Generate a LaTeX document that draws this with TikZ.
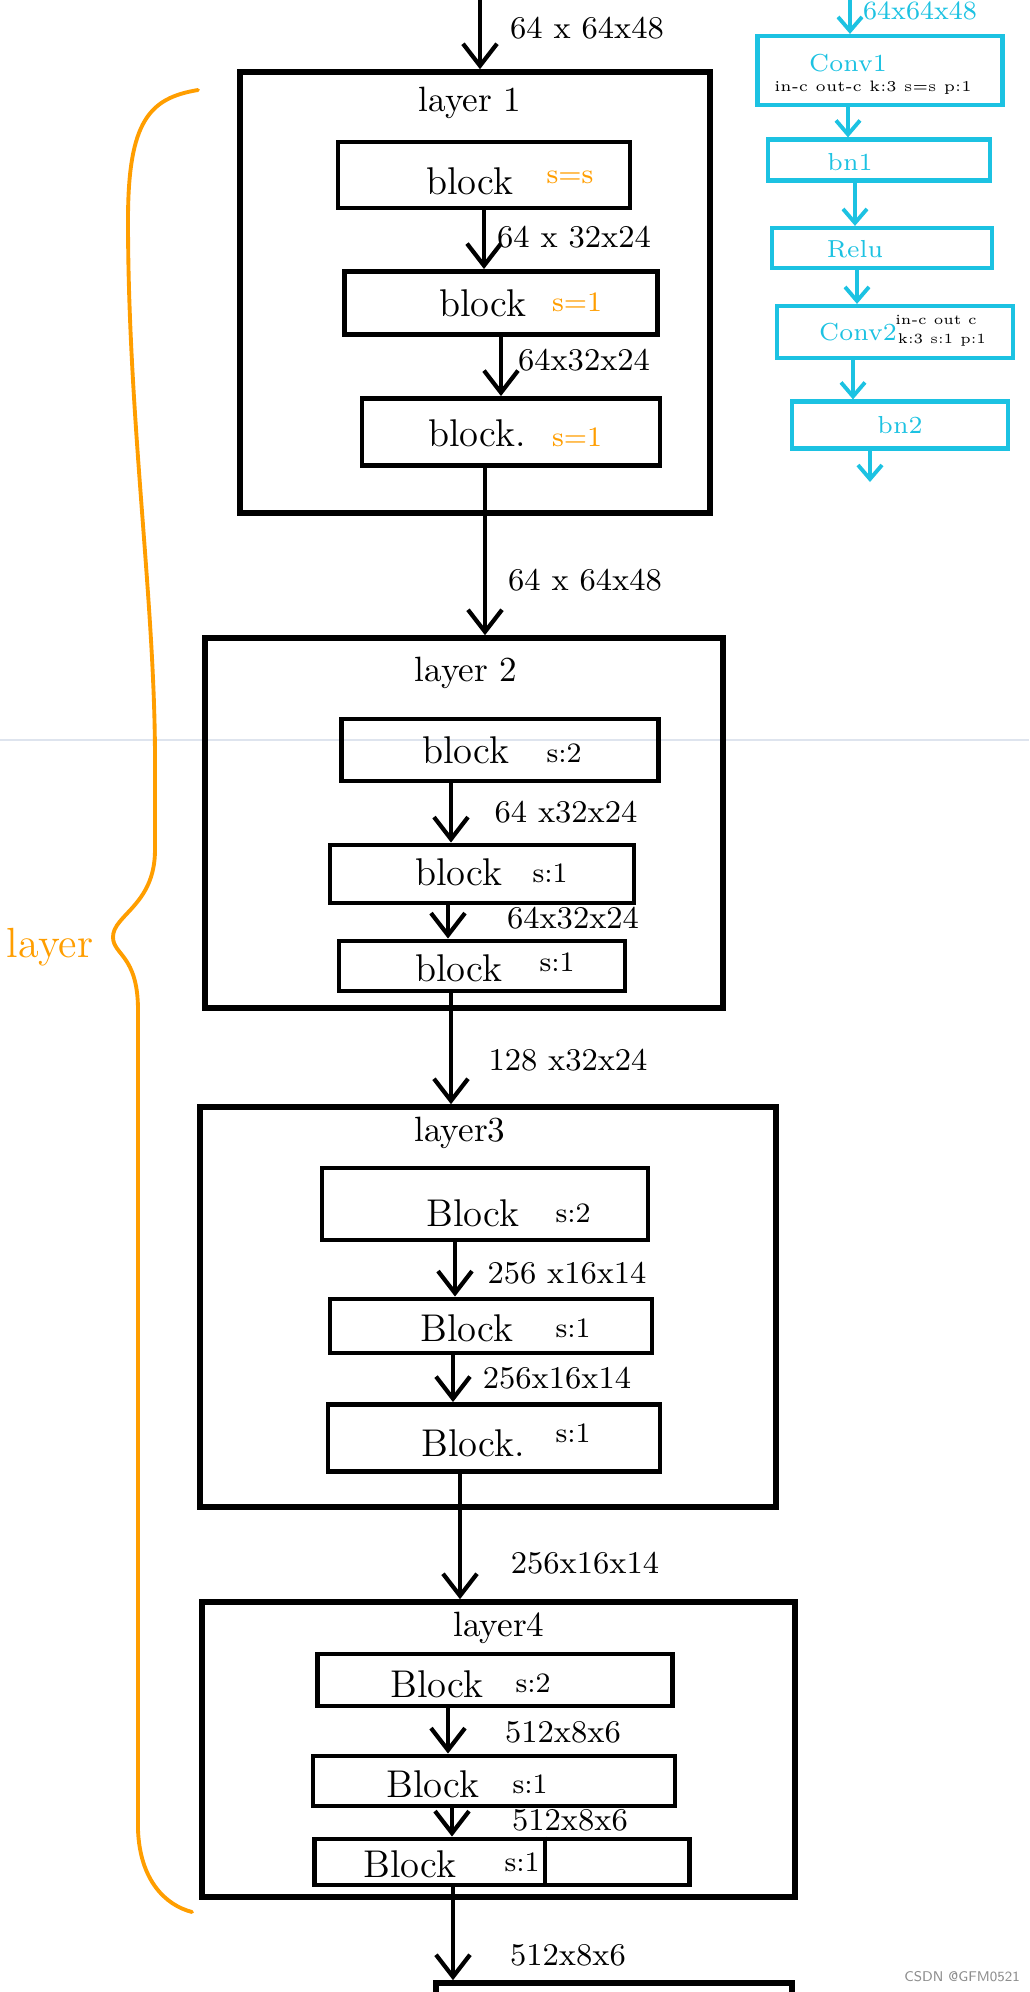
\documentclass[tikz,border=0pt]{standalone}
\usepackage{tikz}
\usetikzlibrary{arrows.meta}
\definecolor{penorange}{RGB}{255,158,0}
\definecolor{pencyan}{RGB}{28,194,226}
\definecolor{rulegray}{RGB}{222,228,238}
\tikzstyle{lnode} = [rectangle, draw, line width=1.6pt, inner sep=0pt]
\tikzstyle{bnode} = [rectangle, draw, line width=1.4pt, inner sep=0pt]
\tikzstyle{cnode} = [rectangle, draw=pencyan, line width=1.2pt, inner sep=0pt]
\tikzstyle{line} = [draw, line width=1.2pt, -{Straight Barb[length=2.2mm,width=3.4mm]}]
\tikzstyle{cline} = [draw=pencyan, line width=1.1pt, -{Straight Barb[length=1.4mm,width=2.4mm]}]
\tikzstyle{ltext} = [font=\fontsize{10}{12}\selectfont, inner sep=0pt]
\tikzstyle{btext} = [font=\fontsize{11}{12}\selectfont, inner sep=0pt]
\tikzstyle{stext} = [font=\fontsize{8}{9}\selectfont, inner sep=0pt]
\tikzstyle{dtext} = [font=\fontsize{9}{10}\selectfont, inner sep=0pt]
\tikzstyle{ctext} = [text=pencyan, font=\fontsize{7}{8}\selectfont, inner sep=0pt]
\tikzstyle{ptext} = [font=\fontsize{4.3}{5}\selectfont, inner sep=0pt]

\begin{document}
\begin{tikzpicture}[x=0.1mm, y=-0.1mm]
	\fill [white] (0,0) rectangle (1029,1992);
	\useasboundingbox (0,0) rectangle (1029,1992);
	\clip (0,0) rectangle (1029,1992);
	\draw [rulegray, line width=0.12mm] (0,740) -- (1029,740);

	% input
	\coordinate (in0) at (480,0);
	\node [dtext] (d0) at (587,28) {64 x 64x48};

	% layer 1
	\node [lnode, minimum width=47mm, minimum height=44.1mm] (L1) at (475,292.5) {};
	\node [ltext] (L1t) at (470,103) {layer 1};
	\node [bnode, minimum width=29.2mm, minimum height=6.6mm] (b11) at (484,175) {};
	\node [btext] (b11t) at (470,181) {block};
	\node [stext, text=penorange] (b11s) at (570,177) {s=s};
	\node [bnode, minimum width=31.3mm, minimum height=6.3mm] (b12) at (501,303) {};
	\node [btext] (b12t) at (483,303) {block};
	\node [stext, text=penorange] (b12s) at (577,302) {s=1};
	\node [bnode, minimum width=29.8mm, minimum height=6.7mm] (b13) at (511,432) {};
	\node [btext] (b13t) at (477,433) {block.};
	\node [stext, text=penorange] (b13s) at (577,437) {s=1};
	\node [dtext] (d11) at (574,237) {64 x 32x24};
	\node [dtext] (d12) at (584,360) {64x32x24};

	% layer 2
	\node [dtext] (d1) at (585,580) {64 x 64x48};
	\node [lnode, minimum width=51.8mm, minimum height=37mm] (L2) at (464,823) {};
	\node [ltext] (L2t) at (466,673) {layer 2};
	\node [bnode, minimum width=31.7mm, minimum height=6.2mm] (b21) at (500,750) {};
	\node [btext] (b21t) at (466,750) {block};
	\node [stext] (b21s) at (564,753) {s:2};
	\node [bnode, minimum width=30.4mm, minimum height=5.8mm] (b22) at (482,874) {};
	\node [btext] (b22t) at (459,872) {block};
	\node [stext] (b22s) at (550,873) {s:1};
	\node [bnode, minimum width=28.6mm, minimum height=5mm] (b23) at (482,966) {};
	\node [btext] (b23t) at (459,968) {block};
	\node [stext] (b23s) at (557,962) {s:1};
	\node [dtext] (d21) at (566,812) {64 x32x24};
	\node [dtext] (d22) at (573,918) {64x32x24};

	% layer 3
	\node [dtext] (d2) at (568,1060) {128 x32x24};
	\node [lnode, minimum width=57.6mm, minimum height=40mm] (L3) at (488,1307) {};
	\node [ltext] (L3t) at (460,1133) {layer3};
	\node [bnode, minimum width=32.6mm, minimum height=7.2mm] (b31) at (485,1204) {};
	\node [btext] (b31t) at (473,1213) {Block};
	\node [stext] (b31s) at (573,1213) {s:2};
	\node [bnode, minimum width=32.2mm, minimum height=5.4mm] (b32) at (491,1326) {};
	\node [btext] (b32t) at (467,1328) {Block};
	\node [stext] (b32s) at (573,1328) {s:1};
	\node [bnode, minimum width=33.2mm, minimum height=6.7mm] (b33) at (494,1438) {};
	\node [btext] (b33t) at (473,1443) {Block.};
	\node [stext] (b33s) at (573,1433) {s:1};
	\node [dtext] (d31) at (567,1273) {256 x16x14};
	\node [dtext] (d32) at (557,1378) {256x16x14};

	% layer 4
	\node [dtext] (d3) at (585,1563) {256x16x14};
	\node [lnode, minimum width=59.3mm, minimum height=29.5mm] (L4) at (498.5,1749.5) {};
	\node [ltext] (L4t) at (499,1628) {layer4};
	\node [bnode, minimum width=35.5mm, minimum height=5.2mm] (b41) at (495,1680) {};
	\node [btext] (b41t) at (437,1684) {Block};
	\node [stext] (b41s) at (533,1683) {s:2};
	\node [bnode, minimum width=36.2mm, minimum height=5mm] (b42) at (494,1781) {};
	\node [btext] (b42t) at (433,1784) {Block};
	\node [stext] (b42s) at (530,1784) {s:1};
	\node [bnode, minimum width=37.5mm, minimum height=4.6mm] (b43) at (502,1862) {};
	\node [btext] (b43t) at (410,1864) {Block};
	\node [stext] (b43s) at (522,1862) {s:1};
	\draw [line width=1.2pt] ([xshift=4.3mm]b43.north) -- ([xshift=4.3mm]b43.south);
	\node [dtext] (d41) at (563,1732) {512x8x6};
	\node [dtext] (d42) at (570,1820) {512x8x6};
	\node [dtext] (d4) at (568,1955) {512x8x6};
	\node [lnode, minimum width=35.6mm, minimum height=10mm] (L5) at (614,2033) {};

	% arrows
	\path [line] (in0) -- (in0 |- L1.north);
	\path [line] (b11.south) -- (b11.south |- b12.north);
	\path [line] (b12.south) -- (b12.south |- b13.north);
	\path [line] ([xshift=-2.6mm]b13.south) -- ([xshift=-2.6mm]b13.south |- L2.north);
	\path [line] ([xshift=-4.9mm]b21.south) -- ([xshift=-4.9mm]b21.south |- b22.north);
	\path [line] ([xshift=-3.4mm]b22.south) -- ([xshift=-3.4mm]b22.south |- b23.north);
	\path [line] ([xshift=-3.1mm]b23.south) -- ([xshift=-3.1mm]b23.south |- L3.north);
	\path [line] ([xshift=-3mm]b31.south) -- ([xshift=-3mm]b31.south |- b32.north);
	\path [line] ([xshift=-3.8mm]b32.south) -- ([xshift=-3.8mm]b32.south |- b33.north);
	\path [line] ([xshift=-3.4mm]b33.south) -- ([xshift=-3.4mm]b33.south |- L4.north);
	\path [line] ([xshift=-4.7mm]b41.south) -- ([xshift=-4.7mm]b41.south |- b42.north);
	\path [line] ([xshift=-4.2mm]b42.south) -- ([xshift=-4.2mm]b42.south |- b43.north);
	\path [line] ([xshift=-4.9mm]b43.south) -- ([xshift=-4.9mm]b43.south |- L5.north);

	% brace
	\draw [penorange, line width=1.1pt, line cap=round]
		(198,90) .. controls (150,98) and (128,120) .. (128,220)
		.. controls (128,420) and (155,600) .. (155,760) -- (155,850)
		.. controls (155,905) and (113,915) .. (113,937)
		.. controls (113,955) and (138,955) .. (138,1010) -- (138,1830)
		.. controls (140,1880) and (165,1905) .. (192,1912);
	\node [text=penorange, font=\fontsize{12}{14}\selectfont, anchor=base, inner sep=0pt] (brl) at (50,957) {layer};

	% block detail
	\coordinate (cin) at (850,0);
	\node [ctext, font=\fontsize{7.5}{8}\selectfont] (cd0) at (920,11) {64x64x48};
	\node [cnode, minimum width=24.5mm, minimum height=6.9mm] (cb1) at (880,70.5) {};
	\node [ctext] (cb1t) at (848,63) {Conv1};
	\node [ptext] (cb1p) at (873,88) {in-c\enspace out-c\enspace k:3\enspace s=s\enspace p:1};
	\node [cnode, minimum width=22.2mm, minimum height=4.1mm] (cb2) at (879,160) {};
	\node [ctext] (cb2t) at (850,162) {bn1};
	\node [cnode, minimum width=22mm, minimum height=4mm] (cb3) at (882,248) {};
	\node [ctext] (cb3t) at (855,249) {Relu};
	\node [cnode, minimum width=23.6mm, minimum height=5.2mm] (cb4) at (895,332) {};
	\node [ctext] (cb4t) at (858,332) {Conv2};
	\node [ptext, font=\fontsize{4}{5}\selectfont] (cb4p) at (936,320) {in-c\enspace out c};
	\node [ptext, font=\fontsize{4}{5}\selectfont] (cb4q) at (942,340) {k:3\enspace s:1\enspace p:1};
	\node [cnode, minimum width=21.6mm, minimum height=4.7mm] (cb5) at (900,425) {};
	\node [ctext] (cb5t) at (900,425) {bn2};
	\coordinate (cout) at (870,482);

	\path [cline] (cin) -- (cin |- cb1.north);
	\path [cline] ([xshift=-3.2mm]cb1.south) -- ([xshift=-3.2mm]cb1.south |- cb2.north);
	\path [cline] ([xshift=-2.4mm]cb2.south) -- ([xshift=-2.4mm]cb2.south |- cb3.north);
	\path [cline] ([xshift=-2.5mm]cb3.south) -- ([xshift=-2.5mm]cb3.south |- cb4.north);
	\path [cline] ([xshift=-4.2mm]cb4.south) -- ([xshift=-4.2mm]cb4.south |- cb5.north);
	\path [cline] ([xshift=-3mm]cb5.south) -- (cout);

	\node [text=black!45, font=\sffamily\fontsize{4}{5}\selectfont, inner sep=0pt] (wm) at (962,1977) {CSDN @GFM0521};
\end{tikzpicture}
\end{document}
